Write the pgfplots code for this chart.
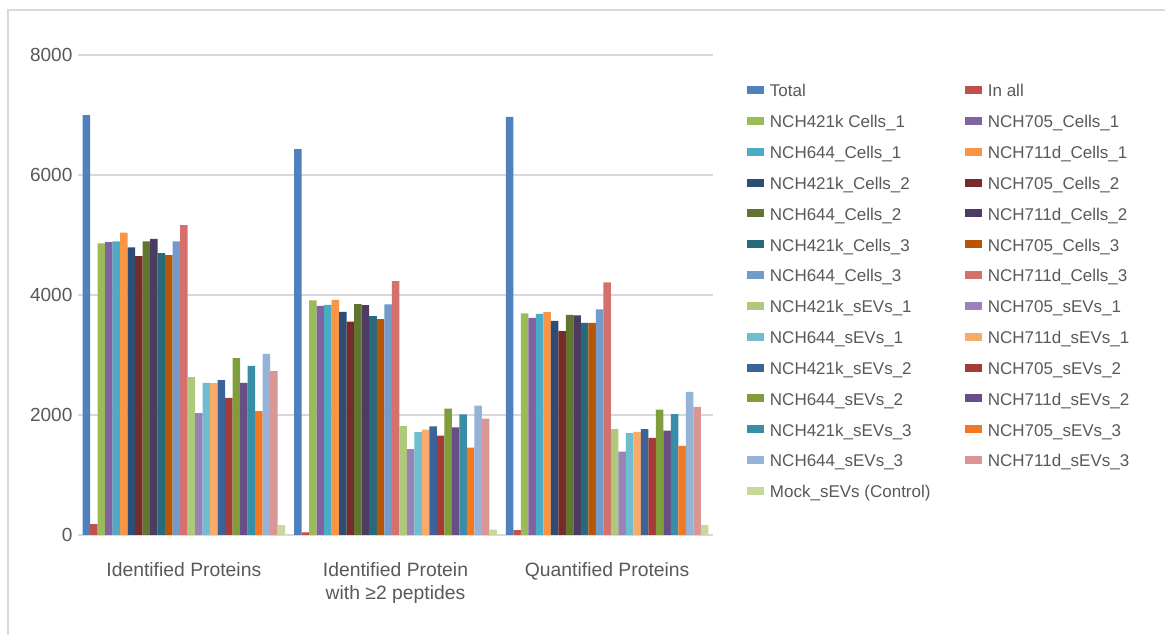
\documentclass[border=0pt]{standalone}
\usepackage{fontspec}
\setmainfont{Liberation Sans}
\usepackage{pgfplots}
\pgfplotsset{compat=1.18}
\definecolor{txt}{HTML}{595959}
\definecolor{gridc}{HTML}{D9D9D9}
\definecolor{framec}{HTML}{D9D9D9}
\definecolor{c1}{HTML}{4F81BD}
\definecolor{c2}{HTML}{C0504D}
\definecolor{c3}{HTML}{9BBB59}
\definecolor{c4}{HTML}{8064A2}
\definecolor{c5}{HTML}{4BACC6}
\definecolor{c6}{HTML}{F79646}
\definecolor{c7}{HTML}{2C4D75}
\definecolor{c8}{HTML}{772C2A}
\definecolor{c9}{HTML}{5F7530}
\definecolor{c10}{HTML}{4D3B62}
\definecolor{c11}{HTML}{276A7C}
\definecolor{c12}{HTML}{B65708}
\definecolor{c13}{HTML}{729ACA}
\definecolor{c14}{HTML}{D4716F}
\definecolor{c15}{HTML}{AFC97A}
\definecolor{c16}{HTML}{9983B5}
\definecolor{c17}{HTML}{6FBDD1}
\definecolor{c18}{HTML}{F9AB6B}
\definecolor{c19}{HTML}{3B6399}
\definecolor{c20}{HTML}{A33B39}
\definecolor{c21}{HTML}{7F9E3B}
\definecolor{c22}{HTML}{674E85}
\definecolor{c23}{HTML}{3A8DA7}
\definecolor{c24}{HTML}{F27821}
\definecolor{c25}{HTML}{95B3D7}
\definecolor{c26}{HTML}{D99694}
\definecolor{c27}{HTML}{C8D89A}
\begin{document}
\begin{tikzpicture}
\useasboundingbox (0,0) rectangle (699pt,380.4pt);
\fill[white] (0,0) rectangle (699pt,380.4pt);
\draw[framec, line width=0.9pt] (4.8pt,-5pt) -- (4.8pt,374.4pt) -- (710pt,374.4pt);
\begin{axis}[
  at={(46.8pt,59.4pt)}, anchor=south west,
  scale only axis, width=381pt, height=288pt,
  ymin=0, ymax=8000, xmin=-0.5, xmax=2.5,
  ytick={0,2000,4000,6000,8000},
  xtick={0,1,2},
  xticklabels={Identified Proteins,{Identified Protein\\with ≥2 peptides},Quantified Proteins},
  /pgf/number format/assume math mode=true,
  scaled y ticks=false,
  yticklabel style={/pgf/number format/1000 sep={}, font=\fontsize{11.4pt}{13.8pt}\selectfont, text=txt, inner sep=0pt, xshift=-3.2pt},
  xticklabel style={align=center, font=\fontsize{11.6pt}{13.8pt}\selectfont, text=txt, inner sep=0pt, yshift=-16.2pt},
  major tick length=0pt,
  axis line style={draw=none},
  ymajorgrids, grid style={gridc, line width=0.9pt},
  ybar=0pt, bar width=4.5pt,
  legend columns=2,
  legend cell align=left,
  legend image code/.code={\fill[#1] (0pt,-0.8pt) rectangle (10.2pt,4pt);},
  legend style={at={(rel axis cs:1.0535,0.939)}, anchor=north west, draw=none, fill=none,
    inner sep=0pt, outer sep=0pt, row sep=8.3pt,
    font=\fontsize{10.2pt}{12pt}\selectfont, text=txt,
    nodes={inner sep=0pt, text height=7.6pt, text depth=2.6pt},
    /tikz/every even column/.append style={column sep=20.6pt},
    /tikz/every odd column/.append style={column sep=3.6pt}},
]
\addplot[fill=c1, draw=none] coordinates {(0,7000) (1,6430) (2,6970)};
\addplot[fill=c2, draw=none] coordinates {(0,180) (1,45) (2,80)};
\addplot[fill=c3, draw=none] coordinates {(0,4860) (1,3910) (2,3695)};
\addplot[fill=c4, draw=none] coordinates {(0,4880) (1,3820) (2,3620)};
\addplot[fill=c5, draw=none] coordinates {(0,4895) (1,3835) (2,3685)};
\addplot[fill=c6, draw=none] coordinates {(0,5040) (1,3920) (2,3715)};
\addplot[fill=c7, draw=none] coordinates {(0,4795) (1,3720) (2,3570)};
\addplot[fill=c8, draw=none] coordinates {(0,4650) (1,3555) (2,3400)};
\addplot[fill=c9, draw=none] coordinates {(0,4895) (1,3850) (2,3670)};
\addplot[fill=c10, draw=none] coordinates {(0,4935) (1,3830) (2,3660)};
\addplot[fill=c11, draw=none] coordinates {(0,4700) (1,3650) (2,3535)};
\addplot[fill=c12, draw=none] coordinates {(0,4665) (1,3600) (2,3535)};
\addplot[fill=c13, draw=none] coordinates {(0,4895) (1,3845) (2,3760)};
\addplot[fill=c14, draw=none] coordinates {(0,5165) (1,4230) (2,4210)};
\addplot[fill=c15, draw=none] coordinates {(0,2630) (1,1815) (2,1765)};
\addplot[fill=c16, draw=none] coordinates {(0,2030) (1,1430) (2,1390)};
\addplot[fill=c17, draw=none] coordinates {(0,2535) (1,1715) (2,1700)};
\addplot[fill=c18, draw=none] coordinates {(0,2530) (1,1755) (2,1720)};
\addplot[fill=c19, draw=none] coordinates {(0,2580) (1,1810) (2,1765)};
\addplot[fill=c20, draw=none] coordinates {(0,2285) (1,1655) (2,1620)};
\addplot[fill=c21, draw=none] coordinates {(0,2950) (1,2105) (2,2090)};
\addplot[fill=c22, draw=none] coordinates {(0,2535) (1,1795) (2,1740)};
\addplot[fill=c23, draw=none] coordinates {(0,2820) (1,2010) (2,2015)};
\addplot[fill=c24, draw=none] coordinates {(0,2065) (1,1455) (2,1485)};
\addplot[fill=c25, draw=none] coordinates {(0,3020) (1,2155) (2,2385)};
\addplot[fill=c26, draw=none] coordinates {(0,2730) (1,1940) (2,2135)};
\addplot[fill=c27, draw=none] coordinates {(0,165) (1,90) (2,165)};
\legend{Total,In all,NCH421k Cells\_1,NCH705\_Cells\_1,NCH644\_Cells\_1,NCH711d\_Cells\_1,NCH421k\_Cells\_2,NCH705\_Cells\_2,NCH644\_Cells\_2,NCH711d\_Cells\_2,NCH421k\_Cells\_3,NCH705\_Cells\_3,NCH644\_Cells\_3,NCH711d\_Cells\_3,NCH421k\_sEVs\_1,NCH705\_sEVs\_1,NCH644\_sEVs\_1,NCH711d\_sEVs\_1,NCH421k\_sEVs\_2,NCH705\_sEVs\_2,NCH644\_sEVs\_2,NCH711d\_sEVs\_2,NCH421k\_sEVs\_3,NCH705\_sEVs\_3,NCH644\_sEVs\_3,NCH711d\_sEVs\_3,Mock\_sEVs (Control)}
\end{axis}
\end{tikzpicture}
\end{document}
